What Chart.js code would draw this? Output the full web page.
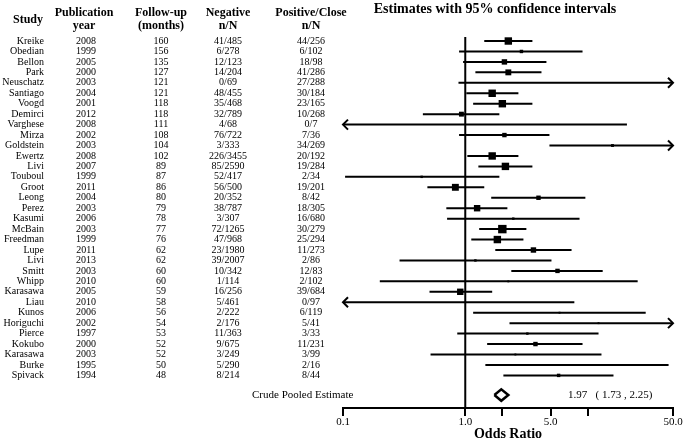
<!DOCTYPE html>
<html>
<head>
<meta charset="utf-8">
<script src="https://cdn.jsdelivr.net/npm/chart.js@4.4.0/dist/chart.umd.min.js"></script>
<style>
  html, body { margin: 0; padding: 0; background: #fff; }
  #wrap { width: 685px; height: 447px; }
</style>
</head>
<body>
<div id="wrap"><canvas id="forest"></canvas></div>
<script>
/* table columns */
const studies = ['Kreike','Obedian','Bellon','Park','Neuschatz','Santiago','Voogd','Demirci','Varghese','Mirza',
  'Goldstein','Ewertz','Livi','Touboul','Groot','Leong','Perez','Kasumi','McBain','Freedman','Lupe','Livi',
  'Smitt','Whipp','Karasawa','Liau','Kunos','Horiguchi','Pierce','Kokubo','Karasawa','Burke','Spivack'];
const years = [2008,1999,2005,2000,2003,2004,2001,2012,2008,2002,2003,2008,2007,1999,2011,2004,2003,2006,2003,
  1999,2011,2013,2003,2010,2005,2010,2006,2002,1997,2000,2003,1995,1994];
const followUp = [160,156,135,127,121,121,118,118,111,108,104,102,89,87,86,80,79,78,77,76,62,62,60,60,59,58,56,54,
  53,52,52,50,48];
const negative = ['41/485','6/278','12/123','14/204','0/69','48/455','35/468','32/789','4/68','76/722','3/333',
  '226/3455','85/2590','52/417','56/500','20/352','38/787','3/307','72/1265','47/968','23/1980','39/2007',
  '10/342','1/114','16/256','5/461','2/222','2/176','11/363','9/675','3/249','5/290','8/214'];
const positive = ['44/256','6/102','18/98','41/286','27/288','30/184','23/165','10/268','0/7','7/36','34/269',
  '20/192','19/284','2/34','19/201','8/42','18/305','16/680','30/279','25/294','11/273','2/86','12/83','2/102',
  '39/684','0/97','6/119','5/41','3/33','11/231','3/99','2/16','8/44'];

/* odds ratios and 95% CI (null = no point estimate drawn) */
const oddsRatio = [2.25,2.88,2.09,2.25,null,1.66,2.01,0.93,null,2.09,16.0,1.66,2.13,0.44,0.83,3.97,1.25,2.47,
  2.01,1.83,3.61,1.21,5.68,2.25,0.91,null,5.9,12.3,3.22,3.75,2.57,8.3,5.8];
const lower = [1.43,0.89,0.96,1.21,0.88,1.02,1.16,0.45,0.045,0.89,4.88,1.04,1.28,0.104,0.49,1.63,0.70,0.71,
  1.30,1.12,1.76,0.29,2.38,0.20,0.51,0.023,1.16,2.3,0.86,1.51,0.52,1.46,2.05];
const upper = [3.54,9.1,4.61,4.2,240,2.72,3.54,1.9,21,4.88,52,2.72,3.54,1.9,1.43,9.6,2.21,8.6,3.16,2.99,7.4,
  5.07,13.3,25.7,1.66,7.8,29.9,65,12.3,9.1,13.0,46,16.3];
const weight = [49,9,25,30,0,49,49,20,0,16,6,49,49,4,42,16,36,4,64,49,25,4,16,1,36,0,1,1,4,16,2,1,9];

const pooled = { or: 1.97, lo: 1.73, hi: 2.25 };

const tickValues = [0.1, 1, 2, 5, 10, 50];
const tickLabels = ['0.1', '1.0', '', '5.0', '', '50.0'];

const xMin = 0.1, xMax = 50;
const pooledRow = 33.88;
const yTop = -0.48, yBottom = 35.12;
const serif = '"Liberation Serif", "DejaVu Serif", serif';

// CI segments, broken by gaps
const ciPoints = [];
studies.forEach((s, i) => {
  ciPoints.push({ x: Math.max(lower[i], xMin), y: i });
  ciPoints.push({ x: Math.min(upper[i], xMax), y: i });
  ciPoints.push({ x: xMax, y: null });
});

const squarePoints = [];
const squareSizes = [];
oddsRatio.forEach((v, i) => {
  if (v !== null) {
    squarePoints.push({ x: v, y: i });
    squareSizes.push(Math.max(Math.sqrt(weight[i]), 1.5) / Math.SQRT2 + 0.3);
  }
});

const diamond = [
  { x: pooled.lo, y: pooledRow },
  { x: pooled.or, y: pooledRow - 0.55 },
  { x: pooled.hi, y: pooledRow },
  { x: pooled.or, y: pooledRow + 0.55 },
  { x: pooled.lo, y: pooledRow }
];

const arrowPlugin = {
  id: 'arrows',
  afterDatasetsDraw(chart) {
    const { ctx, scales } = chart;
    ctx.save();
    ctx.strokeStyle = '#000';
    ctx.lineWidth = 2;
    studies.forEach((s, i) => {
      const y = scales.y.getPixelForValue(i);
      if (upper[i] > xMax) {
        const x = scales.x.getPixelForValue(xMax);
        ctx.beginPath();
        ctx.moveTo(x - 5, y - 5); ctx.lineTo(x, y); ctx.lineTo(x - 5, y + 5);
        ctx.stroke();
      }
      if (lower[i] < xMin) {
        const x = scales.x.getPixelForValue(xMin);
        ctx.beginPath();
        ctx.moveTo(x + 5, y - 5); ctx.lineTo(x, y); ctx.lineTo(x + 5, y + 5);
        ctx.stroke();
      }
    });
    ctx.restore();
  }
};

const tablePlugin = {
  id: 'table',
  afterDraw(chart) {
    const { ctx, scales } = chart;
    ctx.save();
    ctx.fillStyle = '#000';
    ctx.textBaseline = 'middle';

    ctx.font = 'bold 14px ' + serif;
    ctx.textAlign = 'center';
    ctx.fillText('Estimates with 95% confidence intervals', 495, 9);

    ctx.font = 'bold 12px ' + serif;
    ctx.fillText('Study', 28, 20);
    ctx.fillText('Publication', 84, 13);
    ctx.fillText('year', 84, 26);
    ctx.fillText('Follow-up', 161, 13);
    ctx.fillText('(months)', 161, 26);
    ctx.fillText('Negative', 228, 13);
    ctx.fillText('n/N', 228, 26);
    ctx.fillText('Positive/Close', 311, 13);
    ctx.fillText('n/N', 311, 26);

    ctx.font = '10px ' + serif;
    studies.forEach((s, i) => {
      const y = scales.y.getPixelForValue(i);
      ctx.textAlign = 'right';
      ctx.fillText(s, 44, y);
      ctx.textAlign = 'center';
      ctx.fillText(String(years[i]), 86, y);
      ctx.fillText(String(followUp[i]), 161, y);
      ctx.fillText(negative[i], 228, y);
      ctx.fillText(positive[i], 311, y);
    });

    const py = scales.y.getPixelForValue(pooledRow);
    ctx.font = '11px ' + serif;
    ctx.textAlign = 'left';
    ctx.fillText('Crude Pooled Estimate', 252, py);
    ctx.fillText(pooled.or.toFixed(2) + '   ( ' + pooled.lo.toFixed(2) + ' , ' + pooled.hi.toFixed(2) + ')', 568, py);
    ctx.restore();
  }
};

const forest = new Chart(document.getElementById('forest'), {
  type: 'line',
  data: {
    datasets: [{
      type: 'scatter',
      data: squarePoints,
      pointStyle: 'rect',
      pointRadius: squareSizes,
      pointBackgroundColor: '#000',
      pointBorderWidth: 0,
      clip: false
    }, {
      data: ciPoints,
      borderColor: '#000',
      borderWidth: 2,
      pointRadius: 0,
      spanGaps: false,
      clip: false
    }, {
      data: diamond,
      borderColor: '#000',
      borderWidth: 2.5,
      pointRadius: 0,
      fill: false,
      clip: false
    }, {
      data: [{ x: 1, y: yTop + 0.1 }, { x: 1, y: yBottom }],
      borderColor: '#000',
      borderWidth: 2,
      pointRadius: 0,
      clip: false
    }]
  },
  options: {
    responsive: true,
    maintainAspectRatio: false,
    animation: false,
    layout: { padding: { left: 343, right: 12, top: 36, bottom: 0 } },
    plugins: { legend: { display: false }, tooltip: { enabled: false } },
    scales: {
      x: {
        type: 'logarithmic',
        min: xMin,
        max: xMax,
        afterBuildTicks: (scale) => { scale.ticks = tickValues.map(v => ({ value: v })); },
        afterFit: (scale) => { scale.height = 39; },
        ticks: {
          callback: (value, index) => tickLabels[index],
          font: { family: serif, size: 11 },
          color: '#000',
          padding: 0,
          maxRotation: 0,
          autoSkip: false
        },
        grid: { drawOnChartArea: false, tickLength: 8, color: '#000', lineWidth: 2 },
        border: { color: '#000', width: 2 },
        title: {
          display: true,
          text: 'Odds Ratio',
          font: { family: serif, size: 14, weight: 'bold' },
          color: '#000',
          padding: { top: 0, bottom: 4 }
        }
      },
      y: {
        type: 'linear',
        reverse: true,
        min: yTop,
        max: yBottom,
        display: false
      }
    }
  },
  plugins: [arrowPlugin, tablePlugin]
});
</script>
</body>
</html>
